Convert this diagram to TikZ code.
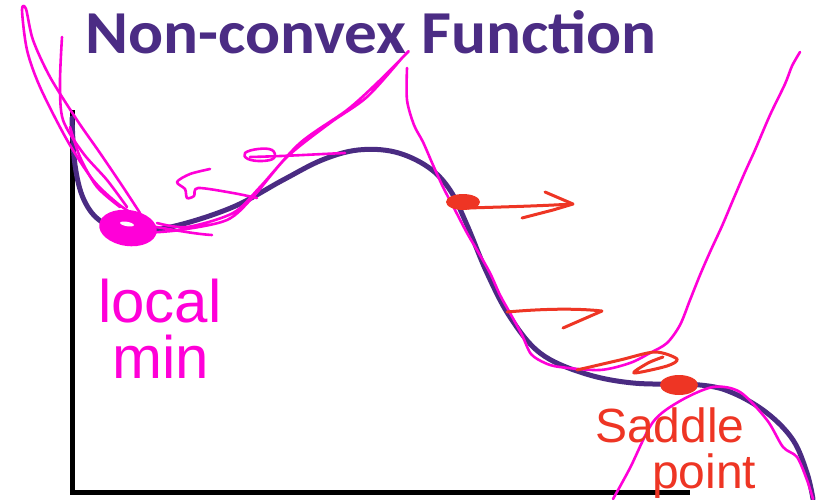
\documentclass[tikz,border=0pt]{standalone}
\usepackage{fontspec}
\setmainfont{Carlito}
\newfontfamily\titlefont{Carlito}
\newfontfamily\handfont{Liberation Sans}
\definecolor{slidepurple}{HTML}{4B2C84}
\definecolor{curvepurple}{HTML}{4A2B82}
\definecolor{penmagenta}{HTML}{FF00D8}
\definecolor{penred}{HTML}{EE3524}
\begin{document}
\begin{tikzpicture}[x=1pt,y=-1pt,
  axisline/.style={line width=5pt, black},
  fcurve/.style={line width=5pt, curvepurple, line cap=round},
  magpen/.style={line width=2.6pt, penmagenta, line cap=round, line join=round},
  redpen/.style={line width=3pt, penred, line cap=round, line join=round},
  handtext/.style={anchor=base west, inner sep=0pt, font=\handfont\fontsize{#1}{#1}\selectfont}
]
\useasboundingbox (0,0) rectangle (837,499);
\fill[white] (0,0) rectangle (837,499);

% title
\node[anchor=base west, inner sep=0pt, text=slidepurple, xscale=1.07,
      font=\titlefont\bfseries\fontsize{61}{61}\selectfont] (title) at (85,53) {Non-convex Function};

% axes
\coordinate (ytop) at (72,110);
\coordinate (origin) at (72,492);
\coordinate (xend) at (690,492);
\draw[axisline] (ytop) -- (origin) -- (xend);

% function curve
\draw[fcurve] plot[smooth, tension=0.6] coordinates {
 (72,118) (75,165) (84,200) (102,222) (133,231) (175,226) (233,207) (283,180)
 (322,160) (358,150) (395,152) (428,167) (450,190) (467,225) (487,273) (510,317)
 (540,353) (583,373) (633,383) (700,385) (733,393) (767,413) (793,440) (807,473) (813,499)};

% magenta annotations: local-min basin
\draw[magpen] plot[smooth, tension=0.5] coordinates {
 (140,213) (123,187) (100,153) (77,120) (50,77) (33,40) (26,9) (22,10) (27,50) (40,87) (67,140) (93,180) (117,203) (133,214)};
\draw[magpen] plot[smooth, tension=0.5] coordinates {
 (62,37) (60,83) (63,120) (83,153) (107,180) (127,207)};
\draw[magpen] plot[smooth, tension=0.5] coordinates {
 (70,127) (80,157) (97,187) (120,207)};
\draw[magpen] plot[smooth, tension=0.5] coordinates {
 (157,223) (187,227) (233,213) (260,187) (300,143) (347,110) (377,83) (407,53)
 (403,57) (367,97) (330,123) (287,157) (253,197) (227,220) (180,230) (143,233)};
\draw[magpen] (150,226) .. controls (175,230) and (195,234) .. (212,235);
\draw[magpen] plot[smooth, tension=0.5] coordinates {
 (210,169) (190,174) (177,182) (185,189) (187,198) (194,196) (198,188) (233,193) (257,198)};
\draw[magpen] plot[smooth cycle, tension=0.7] coordinates {
 (245,153) (258,149) (272,150) (274,158) (262,161) (248,159)};
\draw[magpen] (250,157) .. controls (290,156) and (320,154) .. (345,153);
\fill[penmagenta, rotate around={-8:(128,228)}] (128,228) ellipse [x radius=29, y radius=18];
\fill[white, rotate around={-10:(127,224)}] (127,224) ellipse [x radius=7, y radius=2.2];
\coordinate (minblob) at (128,228);

% magenta: wide valley to the right
\draw[magpen] plot[smooth, tension=0.5] coordinates {
 (407,68) (407,100) (414,125) (423,142) (433,165) (443,187) (455,210) (467,233)
 (477,250) (490,273) (500,295) (510,313) (522,335) (531,354) (545,363) (560,367)
 (600,370) (630,363) (650,353) (667,343) (680,325) (690,300) (700,275) (710,252)
 (722,226) (733,200) (745,172) (755,150) (770,115) (785,84) (792,66) (800,52)};

% magenta: parabola near saddle
\draw[magpen] plot[smooth, tension=0.5] coordinates {
 (613,499) (630,468) (653,422) (680,401) (713,387) (740,392) (767,420) (783,447)
 (797,457) (807,480) (813,499)};

% red arrows
\fill[penred] (463,202) ellipse [x radius=17, y radius=8];
\draw[redpen] (468,208) .. controls (500,207) and (540,206) .. (572,204);
\draw[redpen] (545,192) -- (573,204) -- (553,210) -- (522,218);
\draw[redpen] (507,312) .. controls (540,309) and (575,308) .. (602,311) -- (563,328);
\draw[redpen] plot[smooth, tension=0.5] coordinates {
 (577,370) (620,360) (655,352) (677,359) (667,366) (634,373) (648,363) (663,357)};
\fill[penred] (679,385) ellipse [x radius=19, y radius=10];
\coordinate (saddle) at (679,385);

% handwritten labels
\node[handtext=60, text=penmagenta] (local) at (98,322) {local};
\node[handtext=60, text=penmagenta] (min) at (112,378) {min};
\node[handtext=48, text=penred] (saddlelbl) at (595,442) {Saddle};
\node[handtext=48, text=penred] (pointlbl) at (652,488) {point};
\end{tikzpicture}
\end{document}
